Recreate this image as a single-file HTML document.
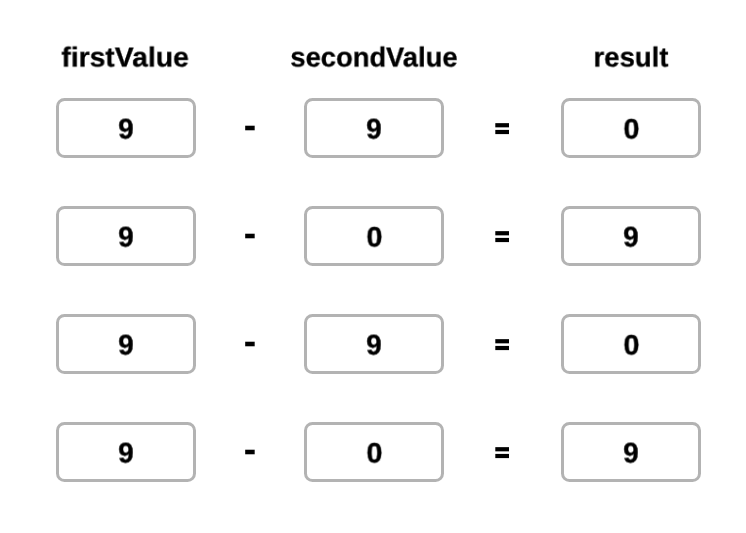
<!DOCTYPE html>
<html><head><meta charset="utf-8"><title>Subtraction</title>
<style>
html,body{margin:0;padding:0;background:#fff;}
body{width:746px;height:533px;position:relative;overflow:hidden;font-family:"Liberation Sans",sans-serif;color:#000;font-weight:bold;text-rendering:geometricPrecision;}
.h{will-change:transform;position:absolute;top:43px;font-size:29px;line-height:29px;width:300px;margin-left:-150px;text-align:center;white-space:nowrap;-webkit-text-stroke:0.3px #000;transform-origin:50% 24.5px;}
.box{position:absolute;box-sizing:border-box;width:140px;height:60px;border:3px solid #b3b3b3;border-radius:8.5px;}
.d{will-change:transform;position:absolute;left:0;right:0;top:14px;font-size:28.5px;line-height:28.5px;text-align:center;-webkit-text-stroke:0.4px #000;transform-origin:50% 0;transform:translate(0px,0.45px) scaleX(0.976);}
.d.z{font-size:30.0px;line-height:30.0px;transform:translate(0.35px,1.0px) scale(0.965,0.9344);}
.m{will-change:transform;position:absolute;width:60px;margin-left:-30px;text-align:center;font-size:38.6px;line-height:38.6px;transform:translateY(0px) scaleX(0.97);}
.e{position:absolute;left:485px;width:35px;height:60px;}
</style></head><body>
<div class="h" style="left:125.42px;transform:translateY(0.4px) scale(0.976,0.95)">firstValue</div>
<div class="h" style="left:373.5px;transform:translateY(0.4px) scale(0.943,0.95)">secondValue</div>
<div class="h" style="left:630.6px;transform:translateY(0.4px) scale(0.95,0.95)">result</div>
<div class="box" style="left:56px;top:98px"><div class="d">9</div></div>
<div class="m" style="left:249.7px;top:107px">-</div>
<div class="box" style="left:304px;top:98px"><div class="d">9</div></div>
<svg class="e" style="top:98px" width="35" height="60" viewBox="485 98 35 60" role="img" aria-label="equals"><rect x="495.3" y="123.15" width="13.7" height="4.2"/><rect x="495.3" y="129.9" width="13.7" height="4.2"/></svg>
<div class="box" style="left:561px;top:98px"><div class="d z">0</div></div>
<div class="box" style="left:56px;top:206px"><div class="d">9</div></div>
<div class="m" style="left:249.7px;top:215px">-</div>
<div class="box" style="left:304px;top:206px"><div class="d z">0</div></div>
<svg class="e" style="top:206px" width="35" height="60" viewBox="485 98 35 60" role="img" aria-label="equals"><rect x="495.3" y="123.15" width="13.7" height="4.2"/><rect x="495.3" y="129.9" width="13.7" height="4.2"/></svg>
<div class="box" style="left:561px;top:206px"><div class="d">9</div></div>
<div class="box" style="left:56px;top:314px"><div class="d">9</div></div>
<div class="m" style="left:249.7px;top:323px">-</div>
<div class="box" style="left:304px;top:314px"><div class="d">9</div></div>
<svg class="e" style="top:314px" width="35" height="60" viewBox="485 98 35 60" role="img" aria-label="equals"><rect x="495.3" y="123.15" width="13.7" height="4.2"/><rect x="495.3" y="129.9" width="13.7" height="4.2"/></svg>
<div class="box" style="left:561px;top:314px"><div class="d z">0</div></div>
<div class="box" style="left:56px;top:422px"><div class="d">9</div></div>
<div class="m" style="left:249.7px;top:431px">-</div>
<div class="box" style="left:304px;top:422px"><div class="d z">0</div></div>
<svg class="e" style="top:422px" width="35" height="60" viewBox="485 98 35 60" role="img" aria-label="equals"><rect x="495.3" y="123.15" width="13.7" height="4.2"/><rect x="495.3" y="129.9" width="13.7" height="4.2"/></svg>
<div class="box" style="left:561px;top:422px"><div class="d">9</div></div>
</body></html>
